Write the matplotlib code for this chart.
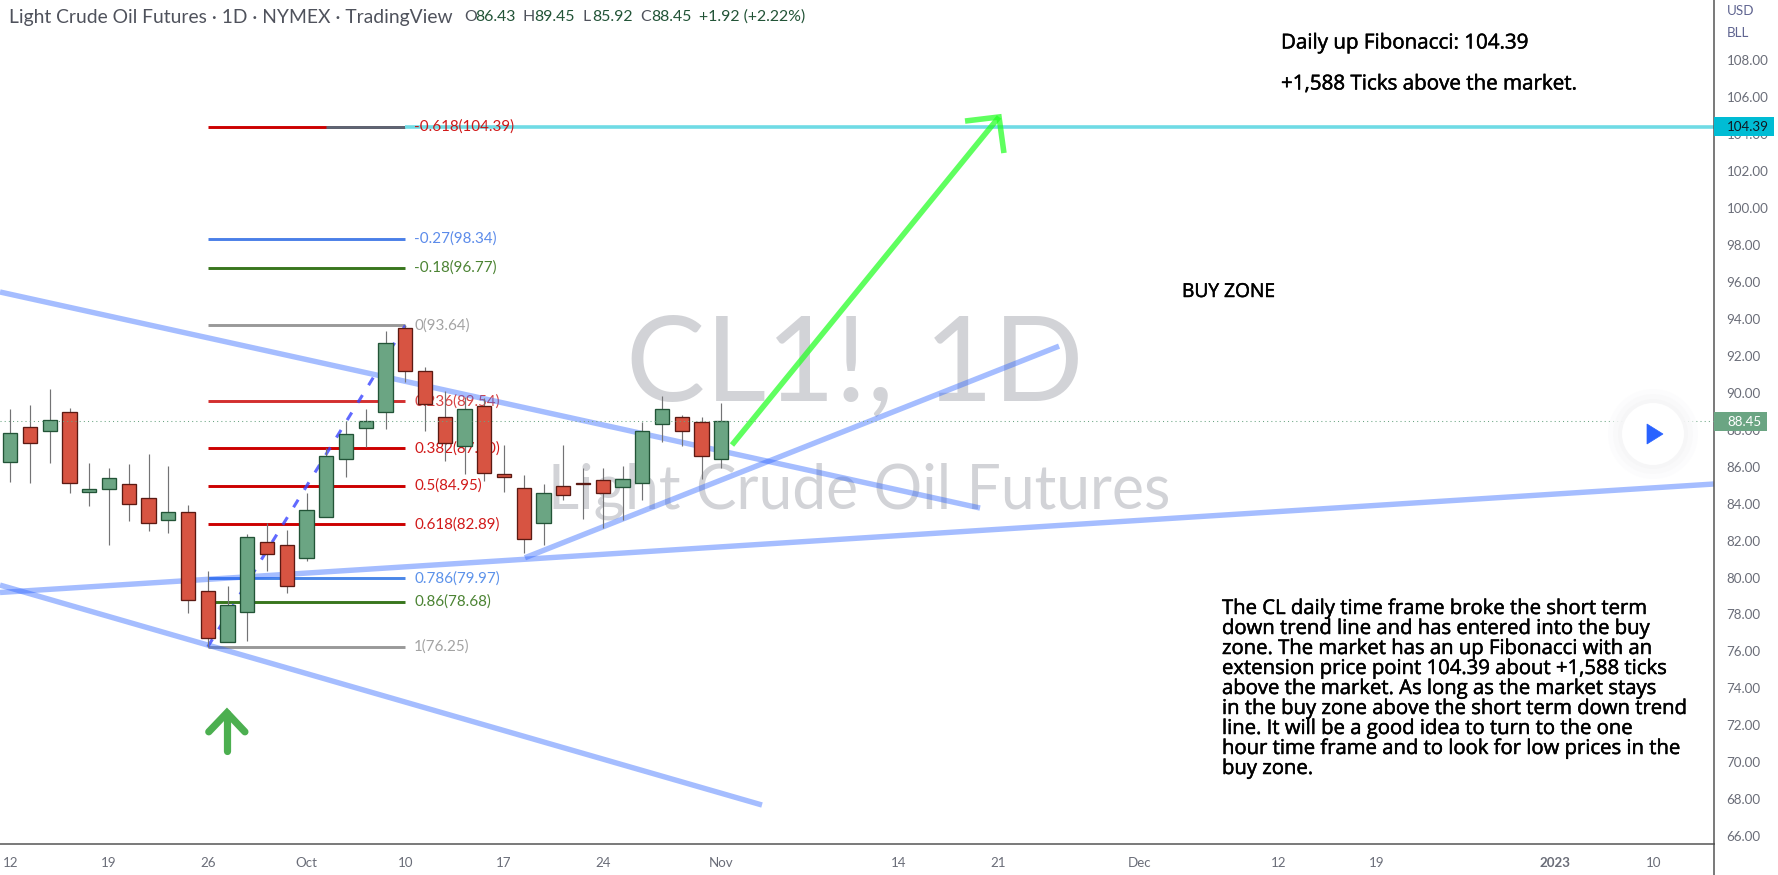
import matplotlib
matplotlib.use('Agg')
import matplotlib.pyplot as plt
import matplotlib.patheffects as pe
from matplotlib.patches import Circle, Polygon, Rectangle

# ==========================================
# DATA
# ==========================================
opens = [86.27, 88.13, 87.95, 88.94, 84.64, 84.81, 85.04, 84.28, 83.09, 83.52, 79.25, 76.49, 78.11,
         81.90, 81.74, 81.03, 83.25, 86.39, 88.07, 88.94, 93.48, 91.16, 88.67, 87.10, 89.26, 85.58,
         84.83, 82.93, 84.94, 85.10, 85.26, 84.88, 85.10, 88.29, 88.67, 88.40, 86.43]
highs = [89.12, 89.33, 90.20, 89.17, 86.19, 85.92, 86.14, 86.68, 86.03, 83.92, 80.35, 79.54, 82.35,
         82.93, 82.57, 84.55, 86.99, 88.45, 89.12, 93.34, 93.64, 91.37, 90.09, 89.78, 89.69, 87.17,
         85.55, 85.06, 87.17, 85.94, 85.93, 86.04, 88.43, 89.82, 88.80, 88.69, 89.45]
lows = [85.18, 85.13, 86.21, 84.59, 83.87, 81.76, 83.07, 82.53, 82.43, 78.09, 76.25, 76.49, 76.58,
        80.37, 79.18, 80.91, 83.25, 85.46, 87.06, 88.05, 90.60, 87.95, 86.32, 85.62, 85.24, 84.65,
        81.33, 81.76, 84.20, 83.19, 82.70, 83.11, 84.20, 87.33, 87.12, 85.33, 85.92]
closes = [87.80, 87.30, 88.50, 85.09, 84.77, 85.37, 83.96, 82.93, 83.53, 78.76, 76.70, 78.49, 82.17,
          81.25, 79.52, 83.63, 86.56, 87.75, 88.45, 92.67, 91.16, 89.37, 87.26, 89.10, 85.64, 85.46,
          82.07, 84.56, 84.48, 85.04, 84.59, 85.31, 87.91, 89.10, 87.91, 86.56, 88.45]

fib_ratios = ['-0.618', '-0.27', '-0.18', '0', '0.236', '0.382', '0.5', '0.618', '0.786', '0.86', '1']
fib_prices = [104.39, 98.34, 96.77, 93.64, 89.54, 87.00, 84.95, 82.89, 79.97, 78.68, 76.25]
fib_colors = ['#cc0000', '#4a7fe8', '#38761d', '#999999', '#d32f2f', '#cc0000', '#cc0000', '#cc0000',
              '#4a86e8', '#38761d', '#999999']

# trend lines as (bar, price) pairs
trend_lines = [
    ([-0.52, 49.1], [95.45, 83.76]),
    ([-0.52, 38.06], [79.59, 67.69]),
    ([-0.52, 86.26], [79.19, 85.06]),
    ([26.06, 53.1], [81.07, 92.52]),
]
arrow_x = [36.54, 50.06]
arrow_y = [87.17, 104.92]
arrow_head_x = [48.34, 50.06, 50.31]
arrow_head_y = [104.70, 104.92, 102.97]
up_x = [10.97, 10.97]
up_y = [70.62, 72.68]
up_head_x = [10.05, 10.97, 11.88]
up_head_y = [71.65, 72.68, 71.65]

price_ticks = list(range(66, 110, 2))
date_ticks = [0, 5, 10, 15, 20, 25, 30, 36, 45, 50, 57.2, 64.2, 69.2, 78.2, 83.2]
date_labels = ['12', '19', '26', 'Oct', '10', '17', '24', 'Nov', '14', '21', 'Dec', '12', '19', '2023', '10']

note_lines = [
    'The CL daily time frame broke the short term',
    'down trend line and has entered into the buy',
    'zone. The market has an up Fibonacci with an',
    'extension price point 104.39 about +1,588 ticks',
    'above the market. As long as the market stays',
    'in the buy zone above the short term down trend',
    'line. It will be a good idea to turn to the one',
    'hour time frame and to look for low prices in the',
    'buy zone.',
]

GREEN, GREEN_EDGE = '#6ba583', '#225437'
RED, RED_EDGE = '#d75442', '#5b1a13'
plt.rcParams['font.family'] = ['Lato', 'DejaVu Sans']
NOTE_FONT = ['Open Sans', 'DejaVu Sans']
# fake a slightly heavier weight for the annotation text
heavy = [pe.withStroke(linewidth=0.35, foreground='black')]

# ==========================================
# AXES
# ==========================================
fig = plt.figure(figsize=(17.78, 8.75), dpi=100)
ax = fig.add_axes([0, 31 / 875, 1714 / 1778, 844 / 875])
ax.set_xlim(-0.52, 86.26)
ax.set_ylim(65.58, 111.25)
ax.yaxis.tick_right()
ax.set_yticks(price_ticks, [f'{p:.2f}' for p in price_ticks])
ax.set_xticks(date_ticks, date_labels)
ax.tick_params(axis='y', length=0, pad=9, labelsize=9.6, labelcolor='#6a6d78')
ax.tick_params(axis='x', length=0, pad=9.5, labelsize=9.6, labelcolor='#6a6d78')
ax.get_xticklabels()[13].set_fontweight('bold')
for name in ['top', 'left']:
    ax.spines[name].set_visible(False)
for name in ['right', 'bottom']:
    ax.spines[name].set_color('#555555')
    ax.spines[name].set_linewidth(1.1)

# --- watermark ---
ax.text(0.4985, 0.565, 'CL1!, 1D', transform=ax.transAxes, ha='center', va='center',
        fontsize=85.5, color='#d2d3d7', zorder=0)
ax.text(0.5015, 0.4175, 'Light Crude Oil Futures', transform=ax.transAxes, ha='center', va='center',
        fontsize=43.7, color='#d2d3d7', zorder=0)

# --- fibonacci levels ---
for ratio, price, color in zip(fib_ratios, fib_prices, fib_colors):
    ax.plot([10, 20], [price, price], color=color, lw=2.1, solid_capstyle='butt', zorder=1)
    ax.text(20.45, price, f'{ratio}({price:.2f})', color=color, alpha=0.9, fontsize=10.9,
            va='center', zorder=1.7)
ax.plot([16, 20], [104.39, 104.39], color='#5d6675', lw=2.1, solid_capstyle='butt', zorder=1.2)
ax.plot([20, 86.26], [104.39, 104.39], color='#6fdbe5', lw=2.6, solid_capstyle='butt', zorder=1.6)

# --- dashed fib trend line and drawn trend lines ---
ax.plot([10, 20], [76.25, 93.64], color='#3a45ff', alpha=0.8, lw=2.2,
        linestyle=(0, (2.9, 3.8)), zorder=1.8)
for xs, ys in trend_lines:
    ax.plot(xs, ys, color='#2962ff', alpha=0.42, lw=3.9, solid_capstyle='butt', zorder=2)

# --- candles ---
bars = range(len(closes))
ax.vlines(bars, lows, highs, color='#737375', lw=0.85, zorder=3)
body_low = [min(o, c) for o, c in zip(opens, closes)]
body_size = [abs(c - o) for o, c in zip(opens, closes)]
face = [GREEN if c >= o else RED for o, c in zip(opens, closes)]
edge = [GREEN_EDGE if c >= o else RED_EDGE for o, c in zip(opens, closes)]
ax.bar(bars, body_size, bottom=body_low, width=0.72, color=face, edgecolor=edge, linewidth=0.95, zorder=3.1)

# --- last price and arrows ---
ax.plot([-0.52, 86.26], [88.45, 88.45], color=GREEN, lw=0.75, linestyle=(0, (1, 3)), zorder=4)
ax.plot(arrow_x, arrow_y, color='#22ff22', alpha=0.72, lw=4, solid_capstyle='butt', zorder=4)
ax.plot(arrow_head_x, arrow_head_y, color='#22ff22', alpha=0.72, lw=4, solid_joinstyle='miter',
        solid_capstyle='butt', zorder=4)
ax.plot(up_x, up_y, color='#4caf50', lw=5.2, solid_capstyle='round', zorder=4)
ax.plot(up_head_x, up_head_y, color='#4caf50', lw=5.2, solid_capstyle='round', solid_joinstyle='miter', zorder=4)

# ==========================================
# OVERLAY IN PIXELS (tags, notes, header)
# ==========================================
over = fig.add_axes([0, 0, 1, 1])
over.set_xlim(0, 1778)
over.set_ylim(875, 0)
over.axis('off')
over.patch.set_alpha(0)

over.plot([1714, 1714], [844, 875], color='#555555', lw=1.1)
over.add_patch(Rectangle((1714, 117), 60, 19, color='#00bcd4', lw=0))
over.text(1727, 127, '104.39', fontsize=9.6, color='#131722', va='center')
over.add_patch(Rectangle((1714, 412), 53, 19, color=GREEN, lw=0))
over.text(1727, 422, '88.45', fontsize=9.6, color='white', va='center')
over.text(1727, 11, 'USD', fontsize=9.6, color='#5f6490', va='center')
over.text(1727, 33, 'BLL', fontsize=9.6, color='#5f6490', va='center')

# --- header ---
over.text(9, 17, 'Light Crude Oil Futures · 1D · NYMEX · TradingView', fontsize=13.85, color='#4f525c', va='center')
header_x = [464, 523, 583, 640, 699]
header = ['O', 'H', 'L', 'C', '']
header_offset = [11, 11, 9, 11, 0]
header_vals = ['86.43', '89.45', '85.92', '88.45', '+1.92 (+2.22%)']
for x, key, off, val in zip(header_x, header, header_offset, header_vals):
    over.text(x, 17, key, fontsize=11.4, color='#4f525c', va='center')
    over.text(x + off, 17, val, fontsize=11.4, color='#225437', va='center')

# --- notes ---
over.text(1281, 43, 'Daily up Fibonacci: 104.39', fontsize=14.8, family=NOTE_FONT, color='black', va='center', path_effects=heavy)
over.text(1281, 84, '+1,588 Ticks above the market.', fontsize=14.8, family=NOTE_FONT, color='black', va='center', path_effects=heavy)
over.text(1182, 292, 'BUY ZONE', fontsize=13.8, family=NOTE_FONT, color='black', va='center', path_effects=heavy)
for i, line in enumerate(note_lines):
    over.text(1222, 609 + 20 * i, line, fontsize=14.6, family=NOTE_FONT, color='black', va='center', path_effects=heavy)

# --- play button ---
for radius, shade in zip([45, 40, 35], ['#fbfbfc', '#f8f8f9', '#f5f5f6']):
    over.add_patch(Circle((1653, 434), radius, color=shade, lw=0, alpha=0.6))
over.add_patch(Circle((1653, 434), 31, color='white', lw=0))
over.add_patch(Polygon([(1647, 424), (1647, 444), (1663, 434)], closed=True, color='#2962ff', lw=0.5))

fig.savefig('out.png', dpi=100)
plt.close(fig)
